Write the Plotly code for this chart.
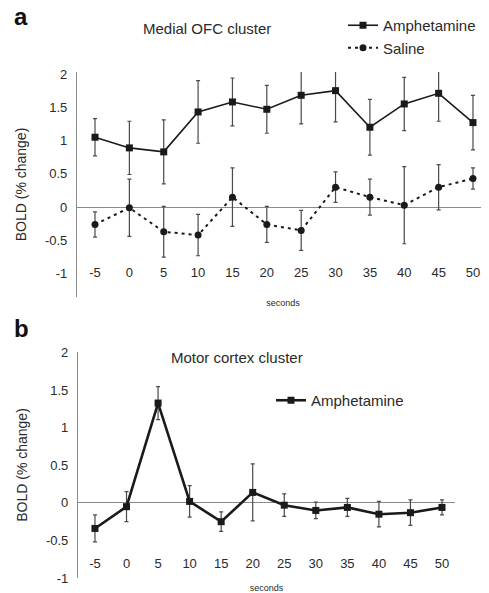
import plotly.graph_objects as go

seconds = [-5, 0, 5, 10, 15, 20, 25, 30, 35, 40, 45, 50]
tick_labels = ["-5", "0", "5", "10", "15", "20", "25", "30", "35", "40", "45", "50"]

# Panel a: Medial OFC cluster
ofc_amph = [1.05, 0.89, 0.83, 1.43, 1.58, 1.47, 1.68, 1.75, 1.20, 1.55, 1.71, 1.27]
ofc_amph_err = [0.28, 0.40, 0.48, 0.47, 0.36, 0.36, 0.43, 0.47, 0.42, 0.40, 0.42, 0.41]
ofc_sal = [-0.26, -0.01, -0.37, -0.42, 0.15, -0.26, -0.35, 0.30, 0.15, 0.03, 0.30, 0.43]
ofc_sal_err = [0.19, 0.43, 0.38, 0.31, 0.44, 0.27, 0.30, 0.23, 0.27, 0.58, 0.34, 0.16]

# Panel b: Motor cortex cluster
motor_amph = [-0.34, -0.05, 1.33, 0.02, -0.25, 0.14, -0.03, -0.10, -0.06, -0.15, -0.13, -0.06]
motor_amph_err = [0.18, 0.20, 0.22, 0.21, 0.13, 0.38, 0.15, 0.11, 0.12, 0.17, 0.17, 0.10]

# The page body has an 8px default margin, so the figure is drawn 8px smaller
PAGE_W, PAGE_H = 489, 593
OFF = 8
W, H = PAGE_W - OFF, PAGE_H - OFF
FONT = "Liberation Sans, Arial, sans-serif"
LINE = "#1a1a1a"
AXIS = "#8a8a8a"
TXT = "#2a2a2a"
ERR = "#4a4a4a"

def px_x(p):
    return (p - OFF) / W

def px_y(p):
    return 1 - (p - OFF) / H

fig = go.Figure()

fig.add_trace(go.Scatter(
    x=seconds, y=ofc_amph, name="Amphetamine", mode="lines+markers",
    line=dict(color=LINE, width=1.6),
    marker=dict(symbol="square", size=7, color=LINE),
    error_y=dict(type="data", array=ofc_amph_err, color=ERR, thickness=1.2, width=2),
    cliponaxis=False, xaxis="x", yaxis="y", legend="legend"))
fig.add_trace(go.Scatter(
    x=seconds, y=ofc_sal, name="Saline", mode="lines+markers",
    line=dict(color=LINE, width=2, dash="3px,4px"),
    marker=dict(symbol="circle", size=7, color=LINE),
    error_y=dict(type="data", array=ofc_sal_err, color=ERR, thickness=1.2, width=2),
    cliponaxis=False, xaxis="x", yaxis="y", legend="legend"))
fig.add_trace(go.Scatter(
    x=seconds, y=motor_amph, name="Amphetamine", mode="lines+markers",
    line=dict(color=LINE, width=2.6),
    marker=dict(symbol="square", size=7, color=LINE),
    error_y=dict(type="data", array=motor_amph_err, color=ERR, thickness=1.2, width=2),
    cliponaxis=False, xaxis="x2", yaxis="y2", legend="legend2"))

tickfont = dict(family=FONT, size=13, color=TXT)

common_x = dict(tickvals=seconds, ticktext=tick_labels, showgrid=False, zeroline=False,
                showline=False, ticks="", tickfont=tickfont, automargin=False, anchor="free")
common_y = dict(tickvals=[-1, -0.5, 0, 0.5, 1, 1.5, 2], ticktext=["-1", "-0.5", "0", "0.5", "1", "1.5", "2"],
                showgrid=False, zeroline=True, zerolinecolor=AXIS, zerolinewidth=1.2,
                showline=True, linecolor=AXIS, linewidth=1.2, ticks="", tickfont=tickfont,
                automargin=False, ticklabelstandoff=6,
                title=dict(text="BOLD (% change)", font=dict(family=FONT, size=14, color=TXT), standoff=14))

fig.update_layout(
    width=W, height=H, margin=dict(l=0, r=0, t=0, b=0),
    paper_bgcolor="white", plot_bgcolor="white",
    font=dict(family=FONT, color=TXT),
    xaxis=dict(common_x, domain=[px_x(77), 1.0], range=[-7.62, 52.33], position=px_y(263),
               title=dict(text="seconds", font=dict(family=FONT, size=9, color=TXT), standoff=20)),
    yaxis=dict(common_y, domain=[px_y(297), px_y(72)], range=[-1.35, 2.03], anchor="x"),
    xaxis2=dict(common_x, domain=[px_x(78), px_x(455)], range=[-7.69, 52.06], position=px_y(554),
                title=dict(text="seconds", font=dict(family=FONT, size=9, color=TXT), standoff=14)),
    yaxis2=dict(common_y, domain=[px_y(578), px_y(352)], range=[-1.0, 2.01], anchor="x2"),
    legend=dict(x=px_x(343), y=px_y(9), xanchor="left", yanchor="top",
                font=dict(family=FONT, size=15, color=TXT), bgcolor="rgba(0,0,0,0)",
                tracegroupgap=0, itemwidth=30),
    legend2=dict(x=px_x(271), y=px_y(384), xanchor="left", yanchor="top",
                 font=dict(family=FONT, size=15, color=TXT), bgcolor="rgba(0,0,0,0)",
                 itemwidth=30),
    showlegend=True,
    annotations=[
        dict(text="<b>a</b>", x=px_x(12), y=px_y(17), xref="paper", yref="paper",
             xanchor="left", yanchor="middle", showarrow=False,
             font=dict(family=FONT, size=24, color="#111")),
        dict(text="<b>b</b>", x=px_x(12), y=px_y(328), xref="paper", yref="paper",
             xanchor="left", yanchor="middle", showarrow=False,
             font=dict(family=FONT, size=24, color="#111")),
        dict(text="Medial OFC cluster", x=px_x(207), y=px_y(29), xref="paper", yref="paper",
             xanchor="center", yanchor="middle", showarrow=False,
             font=dict(family=FONT, size=15, color=TXT)),
        dict(text="Motor cortex cluster", x=px_x(237), y=px_y(357), xref="paper", yref="paper",
             xanchor="center", yanchor="middle", showarrow=False,
             font=dict(family=FONT, size=15, color=TXT)),
    ],
)

fig.write_html("out.html")
